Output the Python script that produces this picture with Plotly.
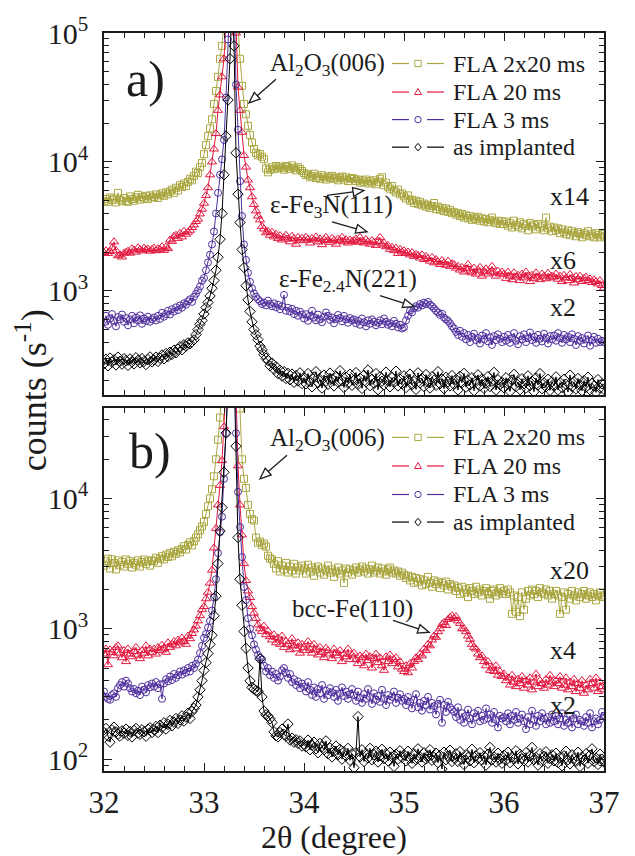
import math
import plotly.graph_objects as go

# ---------------------------------------------------------------- data
two_theta = [round(32 + 0.02 * i, 2) for i in range(251)]

# panel a) -- counts per second (already multiplied by the factors shown)
a_fla_2x20ms = [
    4950, 5150, 4900, 5300, 5050, 5200, 4850, 5750, 5100, 4950, 5250, 5000, 4900, 5400, 5150, 5000, 5300, 5550, 5100, 5350, 5200, 5450, 5150, 5500, 5300,
    5350, 5600, 5250, 5500, 5700, 5450, 5800, 5600, 5900, 6100, 5750, 6300, 6000, 6600, 6400, 6800, 6500, 7000, 7400, 7200, 7800, 8400, 8200, 9100, 9800,
    11480, 13490, 15850, 18200, 21380, 28180, 35480, 45710, 63100, 79430, 125900, 251000, 631000, 1000000, 1000000, 794000, 316000, 112200, 63100, 38900, 28180, 23440, 19050, 16220, 14130,
    12590, 11750, 11220, 11500, 10960, 10500, 8900, 8300, 8700, 9100, 8800, 9300, 8900, 9200, 9000, 8700, 9300, 9100, 8800, 9400, 9000, 8600, 9100, 8800, 8500,
    8200, 7900, 8000, 7600, 7800, 8100, 7500, 7700, 7400, 7900, 7600, 7300, 7700, 7500, 7800, 7400, 7600, 7200, 7500, 7700, 7300, 7600, 7100, 7400, 7500,
    7400, 7100, 7300, 6900, 7200, 7000, 7300, 6800, 7100, 6900, 7200, 6700, 7000, 7400, 7600, 6600, 6900, 6400, 6200, 6500, 6000, 5800, 6100, 5600, 5700,
    5400, 5200, 5500, 5000, 5100, 4800, 5000, 4700, 4900, 4600, 4750, 4500, 4650, 4400, 4550, 4800, 4300, 4500, 4250, 4400, 4150, 4350, 4100, 4250, 4000,
    4100, 3900, 4000, 3800, 3950, 3700, 3850, 3650, 3800, 3550, 3700, 3600, 3750, 3500, 3650, 3450, 3600, 3400, 3550, 3700, 3450, 3350, 3500, 3300, 3450,
    3300, 3450, 3200, 3350, 3100, 3500, 3250, 3150, 3400, 3050, 3300, 3200, 2950, 3350, 3150, 3250, 3000, 3300, 3100, 3200, 2950, 3700, 3050, 3150, 2900,
    3100, 2950, 3050, 2800, 3000, 2850, 2750, 2950, 2700, 2900, 2800, 2650, 2850, 2750, 2600, 2800, 2700, 2900, 2650, 2750, 2600, 2800, 2700, 2600, 2750,
    2650,
]
a_fla_20ms = [
    1980, 2050, 1950, 2020, 2150, 2400, 2050, 1870, 1900, 1830, 1960, 1990, 2030, 1960, 2120, 2070, 2000, 2160, 2090, 2040, 2150, 2080, 2110, 2030, 2100,
    2150, 2050, 2120, 2080, 2200, 2060, 2180, 2130, 2480, 2420, 2650, 2700, 2550, 2800, 2620, 2900, 2750, 2850, 2950, 3100, 3250, 3450, 3600, 3950, 4300,
    4786, 5495, 6310, 7943, 10000, 12590, 16600, 25120, 33110, 45700, 63100, 125900, 316000, 631000, 794000, 398000, 100000, 38020, 25120, 16980, 11220, 9120, 7244, 6310, 5370,
    4677, 4170, 3800, 3550, 3160, 3020, 2820, 2900, 2700, 2850, 2620, 2750, 2550, 2680, 2480, 2600, 2700, 2520, 2400, 2650, 2550, 2300, 2600, 2480, 2560,
    2450, 2600, 2520, 2350, 2550, 2480, 2620, 2400, 2530, 2280, 2500, 2600, 2450, 2380, 2550, 2470, 2300, 2520, 2450, 2600, 2400, 2500, 2350, 2480, 2420,
    2450, 2520, 2380, 2600, 2420, 2350, 2500, 2400, 2300, 2450, 2380, 2250, 2420, 2600, 2300, 2350, 2200, 2250, 2100, 2180, 2050, 2150, 1950, 2100, 2000,
    2050, 1950, 2000, 1900, 1980, 1850, 1920, 1880, 1800, 1900, 1750, 1850, 1780, 1700, 1820, 1650, 1750, 1680, 1600, 1720, 1650, 1580, 1700, 1550, 1620,
    1600, 1500, 1550, 1450, 1520, 1400, 1480, 1600, 1420, 1380, 1500, 1350, 1450, 1520, 1300, 1420, 1480, 1350, 1400, 1550, 1380, 1300, 1420, 1350, 1400,
    1350, 1250, 1400, 1300, 1220, 1380, 1280, 1320, 1200, 1350, 1260, 1400, 1300, 1180, 1320, 1250, 1380, 1280, 1220, 1350, 1300, 1240, 1370, 1260, 1300,
    1280, 1350, 1230, 1300, 1180, 1320, 1260, 1200, 1340, 1250, 1150, 1290, 1220, 1300, 1180, 1250, 1280, 1200, 1240, 1160, 1220, 1180, 1130, 1200, 1100,
    1050,
]
a_fla_3ms = [
    570, 640, 545, 610, 660, 585, 530, 625, 600, 655, 575, 615, 540, 600, 640, 560, 620, 590, 645, 555, 610, 585, 630, 575, 600,
    620, 590, 640, 605, 675, 630, 660, 700, 655, 720, 690, 745, 710, 770, 740, 800, 780, 830, 860, 820, 900, 950, 1010, 1080, 1200,
    1259, 1445, 1660, 1905, 2291, 2884, 3981, 5754, 7943, 10470, 14790, 31620, 89100, 251000, 501000, 199500, 39800, 17780, 7079, 3802, 2291, 1738, 1380, 1175, 1047,
    955, 900, 860, 830, 790, 810, 770, 840, 790, 760, 800, 745, 780, 720, 760, 930, 700, 740, 690, 725, 660, 700, 640, 690, 655,
    610, 660, 585, 640, 700, 620, 590, 655, 600, 570, 630, 680, 640, 595, 620, 560, 605, 650, 615, 580, 640, 600, 565, 615, 590,
    600, 560, 585, 545, 610, 570, 530, 590, 555, 600, 575, 540, 565, 590, 550, 610, 575, 545, 560, 530, 585, 555, 520, 545, 510,
    520, 590, 640, 700, 680, 730, 760, 740, 790, 770, 810, 790, 820, 780, 760, 730, 700, 680, 650, 665, 620, 600, 585, 560, 530,
    510, 480, 455, 490, 440, 470, 420, 455, 400, 440, 465, 415, 430, 390, 450, 420, 470, 405, 435, 380, 445, 415, 460, 425, 400,
    440, 410, 455, 395, 430, 470, 410, 385, 445, 420, 460, 400, 430, 475, 415, 440, 395, 455, 425, 405, 465, 430, 390, 445, 420,
    450, 410, 470, 430, 395, 455, 420, 440, 400, 460, 425, 380, 445, 410, 430, 390, 420, 450, 375, 415, 440, 395, 425, 400, 410,
    400,
]
a_as_implanted = [
    272, 295, 262, 301, 280, 292, 266, 306, 284, 270, 298, 287, 264, 296, 281, 271, 303, 289, 276, 298, 283, 268, 293, 307, 281,
    291, 306, 283, 300, 318, 297, 326, 309, 334, 321, 346, 331, 352, 369, 349, 382, 372, 395, 388, 402, 417, 457, 501, 550, 589,
    661, 741, 813, 912, 1047, 1202, 1445, 1820, 2512, 3981, 7943, 15850, 30200, 63100, 199500, 79400, 11750, 5623, 3388, 2089, 1514, 1096, 851, 692, 575,
    501, 457, 418, 372, 349, 320, 300, 288, 262, 275, 246, 258, 228, 242, 218, 236, 209, 229, 204, 226, 195, 220, 200, 231, 191,
    212, 190, 228, 198, 180, 215, 236, 193, 205, 176, 222, 199, 188, 230, 207, 183, 218, 196, 240, 201, 178, 214, 192, 226, 185,
    203, 232, 188, 210, 175, 221, 197, 243, 184, 206, 192, 228, 171, 215, 199, 186, 234, 201, 180, 212, 195, 238, 183, 207, 190,
    219, 178, 204, 226, 187, 198, 172, 231, 193, 210, 181, 224, 196, 176, 215, 202, 185, 236, 190, 206, 174, 213, 197, 183, 220,
    188, 205, 170, 217, 194, 229, 179, 201, 186, 212, 168, 198, 223, 183, 207, 175, 192, 216, 181, 199, 233, 170, 204, 187, 195,
    177, 212, 189, 166, 203, 225, 181, 196, 171, 208, 190, 176, 219, 184, 199, 165, 211, 186, 228, 174, 193, 180, 206, 169, 197,
    183, 215, 170, 194, 178, 206, 188, 164, 222, 181, 197, 173, 209, 186, 168, 201, 179, 214, 171, 192, 183, 163, 205, 176, 190,
    172,
]

# panel b)
b_fla_2x20ms = [
    3050, 3300, 3450, 2900, 3400, 3200, 2850, 3350, 3100, 3250, 3000, 3400, 3150, 3300, 2950, 3200, 3100, 3350, 3000, 3250, 3400, 3150, 3300, 3050, 3350,
    3300, 3500, 3200, 3450, 3600, 3400, 3700, 3550, 3800, 3600, 3900, 3750, 4000, 3850, 4100, 4300, 4050, 4400, 4600, 4350, 4700, 5000, 5300, 5700, 6100,
    6607, 7586, 8710, 10000, 11750, 14790, 19950, 28180, 41690, 70790, 125900, 251200, 501200, 794300, 1000000, 631000, 251200, 100000, 48980, 19950, 14130, 12020, 8913, 7586, 6918,
    6761, 5012, 4571, 4677, 4365, 4500, 4266, 3631, 3467, 3400, 3150, 2900, 3300, 2750, 3050, 2850, 3200, 2700, 3000, 2800, 3150, 2650, 2950, 2800, 3050,
    2900, 2650, 3100, 2750, 2950, 2550, 2850, 3000, 2700, 2900, 2600, 2800, 3050, 2700, 2850, 2500, 2750, 2950, 2650, 2800, 2250, 2900, 2700, 2850, 2600,
    2800, 2950, 2700, 2850, 3000, 2750, 2900, 2650, 2850, 3050, 2700, 2800, 2950, 2650, 2900, 2750, 2600, 2850, 2950, 2700, 2800, 2650, 2750, 2550, 2700,
    2600, 2450, 2550, 2350, 2500, 2250, 2450, 2300, 2400, 2150, 2350, 2200, 2500, 2250, 2100, 2350, 2200, 2300, 2050, 2250, 2150, 2300, 2000, 2200, 2100,
    2150, 1950, 2050, 1850, 2100, 1900, 2000, 1750, 2050, 1950, 1850, 2100, 1900, 2000, 1800, 1950, 2050, 1850, 1700, 1950, 2000, 1800, 1900, 2050, 1850,
    1950, 1850, 2000, 1900, 1300, 1800, 1350, 1750, 1250, 1900, 1400, 1700, 1950, 1800, 2000, 1850, 1950, 1750, 2050, 1900, 1850, 2000, 1800, 1950, 1700,
    1850, 1950, 1800, 1300, 1750, 1900, 1400, 1850, 1700, 1950, 1800, 1650, 1900, 1750, 1850, 1950, 1700, 1800, 1900, 1750, 1850, 1650, 1800, 1900, 1750,
    1800,
]
b_fla_20ms = [
    640, 700, 530, 690, 660, 620, 720, 740, 650, 600, 680, 560, 700, 640, 610, 670, 720, 630, 590, 680, 650, 740, 620, 700, 660,
    700, 640, 720, 680, 750, 700, 660, 780, 720, 760, 800, 740, 820, 780, 850, 800, 760, 880, 840, 920, 980, 1050, 1150, 1260, 1400,
    1479, 1698, 1905, 2239, 2818, 4169, 5888, 8913, 12590, 19500, 35480, 79430, 199500, 398100, 501200, 251200, 63100, 17780, 8913, 5248, 3162, 2344, 1950, 1738, 1479,
    1318, 1202, 1072, 1000, 955, 1050, 900, 960, 870, 820, 900, 780, 850, 760, 880, 720, 800, 760, 690, 840, 740, 700, 780, 650, 760,
    720, 680, 800, 700, 650, 760, 690, 630, 720, 660, 600, 710, 680, 640, 590, 700, 650, 620, 680, 560, 640, 610, 700, 580, 630,
    650, 580, 540, 620, 600, 520, 640, 570, 610, 500, 590, 640, 550, 600, 520, 480, 610, 560, 630, 540, 580, 600, 510, 560, 490,
    470, 520, 460, 540, 500, 560, 600, 580, 640, 620, 700, 680, 760, 740, 820, 880, 860, 950, 1000, 1080, 1120, 1060, 1180, 1220, 1260,
    1200, 1240, 1150, 1100, 1000, 1000, 950, 880, 830, 760, 720, 700, 640, 600, 620, 560, 520, 560, 480, 500, 470, 520, 440, 470, 430,
    450, 400, 420, 370, 440, 390, 360, 410, 380, 430, 350, 400, 370, 420, 340, 390, 450, 360, 400, 380, 350, 410, 370, 440, 390,
    360, 400, 380, 430, 350, 370, 420, 340, 390, 360, 410, 330, 380, 350, 400, 320, 370, 340, 410, 380, 350, 420, 330, 390, 360,
    340,
]
b_fla_3ms = [
    330, 300, 290, 285, 310, 320, 300, 350, 370, 390, 360, 400, 380, 350, 330, 345, 320, 335, 310, 360, 340, 325, 370, 355, 380,
    360, 390, 350, 375, 290, 380, 410, 395, 430, 405, 450, 420, 440, 470, 445, 480, 460, 500, 470, 520, 500, 540, 580, 650, 740,
    851, 912, 1023, 1148, 1380, 1738, 2399, 3802, 5495, 7244, 14130, 31620, 79430, 199500, 316200, 125900, 31620, 11220, 6026, 3548, 2089, 1660, 1202, 1000, 891,
    759, 692, 631, 600, 580, 520, 470, 500, 440, 470, 420, 450, 400, 430, 480, 500, 460, 420, 450, 390, 410, 370, 395, 350, 380,
    360, 330, 390, 340, 310, 355, 300, 345, 320, 370, 290, 335, 310, 350, 325, 300, 340, 280, 320, 355, 305, 330, 290, 315, 345,
    310, 280, 330, 295, 270, 315, 290, 345, 300, 265, 320, 285, 305, 275, 340, 290, 260, 310, 285, 300, 330, 270, 295, 315, 280,
    290, 260, 300, 275, 245, 285, 315, 250, 270, 235, 280, 260, 300, 240, 270, 255, 220, 265, 285, 190, 260, 230, 275, 250, 240,
    230, 210, 250, 200, 225, 190, 215, 240, 205, 185, 225, 210, 235, 195, 215, 200, 245, 205, 220, 190, 230, 200, 175, 215, 205,
    210, 195, 225, 185, 215, 200, 230, 190, 205, 220, 195, 170, 210, 185, 235, 200, 180, 215, 195, 225, 205, 185, 210, 190, 220,
    195, 215, 185, 205, 225, 180, 200, 190, 215, 175, 205, 220, 185, 200, 195, 180, 210, 190, 225, 175, 195, 205, 185, 200, 230,
    215,
]
b_as_implanted = [
    160, 172, 150, 135, 168, 176, 162, 155, 150, 165, 158, 170, 152, 163, 148, 166, 172, 158, 155, 168, 162, 150, 170, 174, 160,
    168, 178, 160, 182, 175, 190, 170, 185, 198, 180, 192, 205, 188, 200, 215, 196, 210, 225, 205, 232, 245, 260, 300, 340, 400,
    479, 550, 646, 759, 891, 1259, 1778, 3162, 5623, 8511, 15850, 31620, 79430, 199500, 316200, 100000, 25120, 5012, 2399, 1514, 955, 708, 501, 398, 355,
    345, 335, 330, 589, 300, 234, 219, 214, 204, 191, 162, 151, 148, 160, 170, 155, 150, 186, 140, 145, 135, 141, 132, 138, 126,
    130, 124, 140, 118, 128, 135, 120, 112, 132, 125, 118, 138, 110, 122, 104, 115, 126, 108, 119, 100, 114, 106, 121, 98, 110,
    86, 112, 212, 104, 118, 96, 110, 102, 121, 99, 108, 115, 95, 106, 119, 101, 110, 97, 113, 104, 88, 109, 100, 116, 103,
    108, 97, 115, 102, 93, 110, 99, 120, 104, 95, 112, 100, 106, 118, 98, 103, 111, 94, 107, 84, 113, 99, 105, 117, 96,
    102, 110, 96, 114, 100, 91, 108, 103, 97, 119, 94, 106, 101, 112, 98, 105, 90, 109, 123, 99, 104, 95, 111, 100, 93,
    107, 98, 113, 94, 104, 100, 116, 92, 109, 101, 97, 112, 95, 106, 123, 99, 103, 90, 110, 96, 105, 114, 93, 101, 108,
    97, 111, 94, 103, 89, 106, 115, 99, 92, 108, 101, 96, 113, 88, 104, 98, 110, 93, 107, 120, 96, 102, 91, 109, 100,
    95,
]

series_names = ["FLA 2x20 ms", "FLA 20 ms", "FLA 3 ms", "as implanted"]
panel_a_series = [a_fla_2x20ms, a_fla_20ms, a_fla_3ms, a_as_implanted]
panel_b_series = [b_fla_2x20ms, b_fla_20ms, b_fla_3ms, b_as_implanted]
panel_a_factors = ["x14", "x6", "x2"]
panel_b_factors = ["x20", "x4", "x2"]

x_tick_values = [32, 33, 34, 35, 36, 37]
a_y_tick_values = [1e3, 1e4, 1e5]
a_y_tick_text = ["10<sup>3</sup>", "10<sup>4</sup>", "10<sup>5</sup>"]
b_y_tick_values = [1e2, 1e3, 1e4]
b_y_tick_text = ["10<sup>2</sup>", "10<sup>3</sup>", "10<sup>4</sup>"]
log_minor_values = [m * 10 ** e for e in range(1, 6) for m in range(2, 10)]

for s in panel_a_series + panel_b_series:
    assert len(s) == len(two_theta)

# ---------------------------------------------------------------- style
FONT = "Liberation Serif"
INK = "#1c1c1c"
colors = ["#ABA843", "#E3183F", "#4F2F9E", "#000000"]
symbols = ["square-open", "triangle-up-open", "circle-open", "diamond-open"]
sizes = [7, 8, 7, 8]

# plot area in pixels
L_PX, R_PX, T_PX, B_PX = 104, 604, 21, 771


def fx(px):
    return (px - L_PX) / (R_PX - L_PX)


def fy(py):
    return (B_PX - py) / (B_PX - T_PX)


fig = go.Figure()

for series, xa, ya in ((panel_a_series, "x", "y"), (panel_b_series, "x2", "y2")):
    for vals, name, col, sym, size in zip(series, series_names, colors, symbols, sizes):
        fig.add_trace(go.Scatter(
            x=two_theta, y=vals, name=name, mode="lines+markers",
            xaxis=xa, yaxis=ya, showlegend=False,
            line=dict(color=col, width=1),
            marker=dict(symbol=sym, size=size, color=col, line=dict(color=col, width=1)),
        ))

axis_style = dict(
    showline=True, linecolor=INK, linewidth=1.5, mirror="allticks",
    ticks="inside", ticklen=8, tickwidth=1.2, tickcolor=INK,
    showgrid=False, zeroline=False, ticklabeloverflow="allow",
)
x_minor = dict(ticks="inside", tick0=32, dtick=0.2, ticklen=5, tickwidth=1, tickcolor=INK, showgrid=False)
y_minor = dict(ticks="inside", tickmode="array", tickvals=log_minor_values, ticklen=5, tickwidth=1,
               tickcolor=INK, showgrid=False)
x_tickfont = dict(family=FONT, size=31, color=INK)
y_tickfont = dict(family=FONT, size=30, color=INK)

top_lo = (B_PX - 389) / (B_PX - T_PX)
bot_hi = (B_PX - 402) / (B_PX - T_PX)

fig.update_layout(
    width=635, height=856,
    margin=dict(l=L_PX, r=635 - R_PX, t=T_PX, b=856 - B_PX),
    paper_bgcolor="white", plot_bgcolor="white",
    showlegend=False,
    font=dict(family=FONT, size=25, color=INK),
    xaxis=dict(axis_style, domain=[0, 1], anchor="y", range=[32, 37], tickfont=x_tickfont,
               tickmode="array", tickvals=x_tick_values, showticklabels=False, minor=x_minor),
    xaxis2=dict(axis_style, domain=[0, 1], anchor="y2", range=[32, 37], tickfont=x_tickfont,
                tickmode="array", tickvals=x_tick_values, minor=x_minor, ticklabelstandoff=3),
    yaxis=dict(axis_style, type="log", domain=[top_lo, 1], anchor="x", range=[2.191, 5.0],
               tickfont=y_tickfont, tickmode="array", tickvals=a_y_tick_values, ticktext=a_y_tick_text,
               minor=y_minor, ticklabelstandoff=8),
    yaxis2=dict(axis_style, type="log", domain=[0, bot_hi], anchor="x2", range=[1.909, 4.694],
                tickfont=y_tickfont, tickmode="array", tickvals=b_y_tick_values, ticktext=b_y_tick_text,
                minor=y_minor, ticklabelstandoff=8),
)

annotations = []


def text(label, px, py, size=25, xanchor="left", angle=None):
    item = dict(
        text=label, x=fx(px), y=fy(py), xref="paper", yref="paper",
        xanchor=xanchor, yanchor="middle", showarrow=False,
        font=dict(family=FONT, size=size, color=INK),
    )
    if angle is not None:
        item["textangle"] = angle
    annotations.append(item)


def arrow(tail, tip, head_len=11.0, head_half=4.5):
    (tx, ty), (hx, hy) = tail, tip
    d = math.hypot(hx - tx, hy - ty)
    ux, uy = (hx - tx) / d, (hy - ty) / d
    bx, by = hx - ux * head_len, hy - uy * head_len
    nx, ny = -uy, ux
    fig.add_shape(type="line", xref="paper", yref="paper",
                  x0=fx(tx), y0=fy(ty), x1=fx(bx), y1=fy(by),
                  line=dict(color=INK, width=1.3))
    p1 = (bx + nx * head_half, by + ny * head_half)
    p2 = (bx - nx * head_half, by - ny * head_half)
    path = (f"M {fx(hx)},{fy(hy)} L {fx(p1[0])},{fy(p1[1])} "
            f"L {fx(p2[0])},{fy(p2[1])} Z")
    fig.add_shape(type="path", xref="paper", yref="paper", path=path,
                  fillcolor="white", line=dict(color=INK, width=1.3))


def key_marker(symbol, cx, cy, col, r=3.2):
    kw = dict(xref="paper", yref="paper", line=dict(color=col, width=1), fillcolor="white")
    if symbol.startswith("square"):
        fig.add_shape(type="rect", x0=fx(cx - r), x1=fx(cx + r), y0=fy(cy + r), y1=fy(cy - r), **kw)
    elif symbol.startswith("circle"):
        fig.add_shape(type="circle", x0=fx(cx - r), x1=fx(cx + r), y0=fy(cy + r), y1=fy(cy - r), **kw)
    elif symbol.startswith("triangle"):
        pts = [(cx, cy - r * 1.1), (cx + r * 1.1, cy + r * 0.8), (cx - r * 1.1, cy + r * 0.8)]
        fig.add_shape(type="path", path="M " + " L ".join(f"{fx(a)},{fy(b)}" for a, b in pts) + " Z", **kw)
    else:
        pts = [(cx, cy - r * 1.2), (cx + r * 1.0, cy), (cx, cy + r * 1.2), (cx - r * 1.0, cy)]
        fig.add_shape(type="path", path="M " + " L ".join(f"{fx(a)},{fy(b)}" for a, b in pts) + " Z", **kw)


def key(rows_y):
    for py, name, col, sym in zip(rows_y, series_names, colors, symbols):
        for x0, x1 in ((392, 409), (427, 444)):
            fig.add_shape(type="line", xref="paper", yref="paper",
                          x0=fx(x0), x1=fx(x1), y0=fy(py), y1=fy(py),
                          line=dict(color=col, width=1.2))
        key_marker(sym, 418, py, col)
        text(name, 451, py, size=24)


# panel a)
text("a)", 145, 68, size=50, xanchor="center")
text("Al<sub>2</sub>O<sub>3</sub>(006)", 268, 53)
text("ε-Fe<sub>3</sub>N(111)", 268, 197)
text("ε-Fe<sub>2.4</sub>N(221)", 277, 273)
for label, py in zip(panel_a_factors, [187, 252, 300]):
    text(label, 548, py, size=26)
key([52, 81, 109, 137])
arrow((276, 68), (249, 92))
arrow((327, 186), (364, 181))
arrow((332, 213), (367, 223))
arrow((380, 288), (414, 299))

# panel b)
text("b)", 150, 446, size=50, xanchor="center")
text("Al<sub>2</sub>O<sub>3</sub>(006)", 268, 434)
text("bcc-Fe(110)", 290, 606)
for label, py in zip(panel_b_factors, [567, 649, 704]):
    text(label, 548, py, size=26)
key([432, 461, 490, 518])
arrow((287, 450), (260, 474))
arrow((393, 618), (429, 630))

# axis titles
text("2θ (degree)", 334, 838, size=32, xanchor="center")
text("counts (s<sup>-1</sup>)", 31, 384, size=36, xanchor="center", angle=-90)

fig.update_layout(annotations=annotations)
fig.write_html("out.html")
